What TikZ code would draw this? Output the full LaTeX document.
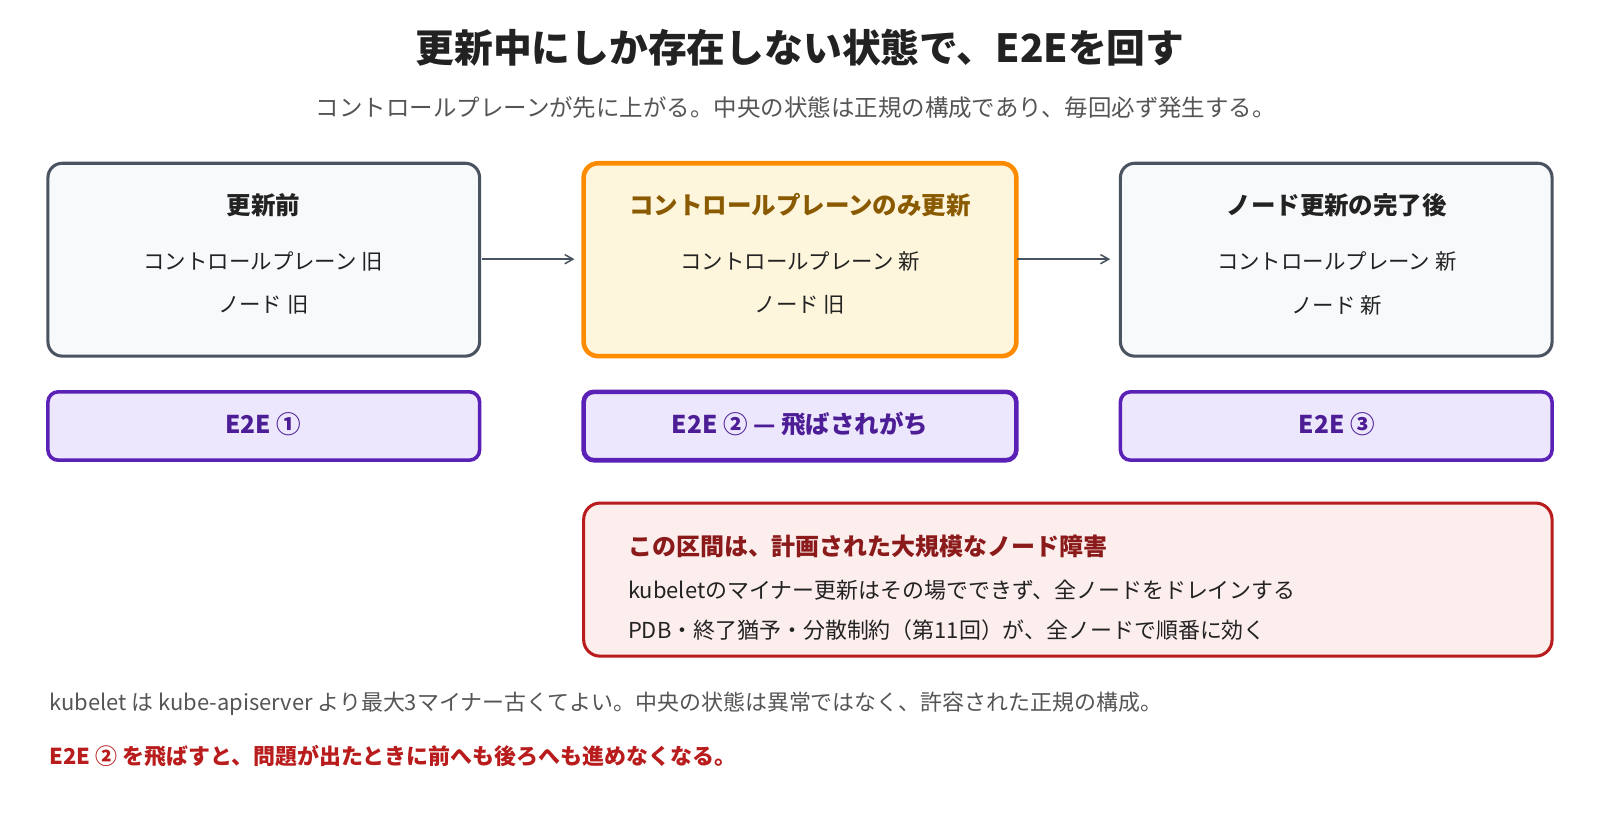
\documentclass[tikz,border=0pt]{standalone}
\usepackage{fontspec}
\setmainfont{Noto Sans CJK JP}
\usetikzlibrary{arrows.meta}
\definecolor{gb}{HTML}{4A5360}\definecolor{gf}{HTML}{F7F9FB}
\definecolor{ob}{HTML}{FF8C00}\definecolor{of}{HTML}{FEF6DC}\definecolor{ot}{HTML}{8A5A00}
\definecolor{pb}{HTML}{5B21B6}\definecolor{pf}{HTML}{EDE7FE}\definecolor{pt}{HTML}{4C1D95}
\definecolor{rb}{HTML}{B91C1C}\definecolor{rf}{HTML}{FDEEEE}\definecolor{rt}{HTML}{8B1A1A}
\definecolor{tx}{HTML}{222222}\definecolor{mu}{HTML}{555555}
\begin{document}
\begin{tikzpicture}[x=1pt,y=1pt,
 box/.style={draw=gb,fill=gf,line width=3pt,rounded corners=14pt},
 ttl/.style={font=\fontsize{24}{28}\selectfont\bfseries,text=tx},
 bd/.style={font=\fontsize{21}{25}\selectfont,text=tx},
 ebox/.style={draw=pb,fill=pf,line width=3.5pt,rounded corners=10pt},
 et/.style={font=\fontsize{24}{28}\selectfont\bfseries,text=pt},
 arr/.style={-{Straight Barb[length=8pt,width=9pt]},draw=gb,line width=1.5pt}]
\useasboundingbox (0,0) rectangle (1568,823);
\fill[white] (0,0) rectangle (1568,823);
\begin{scope}[yshift=-17pt]
\node[font=\fontsize{38}{44}\selectfont\bfseries,text=tx] (title) at (784,793) {更新中にしか存在しない状態で、E2Eを回す};
\node[font=\fontsize{23}{27}\selectfont,text=mu] (sub) at (780,735) {コントロールプレーンが先に上がる。中央の状態は正規の構成であり、毎回必ず発生する。};
\draw[box] (47,491) rectangle (470,680);
\draw[box,draw=ob,fill=of,line width=4.5pt] (572,491) rectangle (996,680);
\draw[box] (1098,491) rectangle (1521,680);
\node[ttl] (t1) at (258,639) {更新前};
\node[bd] (l11) at (258,584) {コントロールプレーン 旧};
\node[bd] (l12) at (258,541) {ノード 旧};
\node[ttl,text=ot] (t2) at (784,639) {コントロールプレーンのみ更新};
\node[bd] (l21) at (784,584) {コントロールプレーン 新};
\node[bd] (l22) at (784,541) {ノード 旧};
\node[ttl] (t3) at (1310,639) {ノード更新の完了後};
\node[bd] (l31) at (1310,584) {コントロールプレーン 新};
\node[bd] (l32) at (1310,541) {ノード 新};
\coordinate (a1s) at (472,586); \coordinate (a1e) at (563,586);
\coordinate (a2s) at (997,586); \coordinate (a2e) at (1088,586);
\draw[arr] (a1s) -- (a1e);
\draw[arr] (a2s) -- (a2e);
\draw[ebox] (47,389) rectangle (470,456);
\draw[ebox,line width=4.5pt] (572,389) rectangle (996,456);
\draw[ebox] (1098,389) rectangle (1521,456);
\node[et] (e1) at (258,424) {E2E ①};
\node[et] (e2) at (784,424) {E2E ② — 飛ばされがち};
\node[et] (e3) at (1310,424) {E2E ③};
\draw[draw=rb,fill=rf,line width=3pt,rounded corners=16pt] (572,197) rectangle (1521,347);
\node[anchor=west,font=\fontsize{23.5}{27}\selectfont\bfseries,text=rt] (r1) at (612,305) {この区間は、計画された大規模なノード障害};
\node[anchor=west,font=\fontsize{21.5}{25}\selectfont,text=tx] (r2) at (612,262) {kubeletのマイナー更新はその場でできず、全ノードをドレインする};
\node[anchor=west,font=\fontsize{21.5}{25}\selectfont,text=tx] (r3) at (612,222) {PDB・終了猶予・分散制約（第11回）が、全ノードで順番に効く};
\node[anchor=west,font=\fontsize{21.5}{25}\selectfont,text=mu] (n1) at (45,150) {kubelet は kube-apiserver より最大3マイナー古くてよい。中央の状態は異常ではなく、許容された正規の構成。};
\node[anchor=west,font=\fontsize{21.5}{25}\selectfont\bfseries,text=rb] (n2) at (45,99) {E2E ② を飛ばすと、問題が出たときに前へも後ろへも進めなくなる。};
\end{scope}
\end{tikzpicture}
\end{document}
